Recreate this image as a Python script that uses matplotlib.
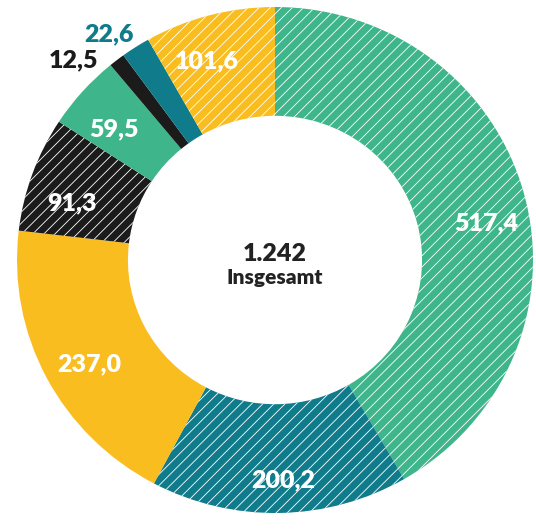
import numpy as np
import matplotlib
matplotlib.use('Agg')
import matplotlib.pyplot as plt

# Werte (Uhrzeigersinn ab 12 Uhr)
values = [517.4, 200.2, 237.0, 91.3, 59.5, 12.5, 22.6, 101.6]
labels = ['517,4', '200,2', '237,0', '91,3', '59,5', '12,5', '22,6', '101,6']
colors = ['#3fb58b', '#0f7b8b', '#f9bd1f', '#1b1b1b', '#3fb58b', '#1b1b1b', '#0f7b8b', '#f9bd1f']
hatches = ['///', '///', '', '///', '', '', '', '///']
outside = [False, False, False, False, False, True, True, False]
total_label = '1.242'
total_text = 'Insgesamt'

# Feinjustierung der Beschriftung (Winkelversatz in Grad, Radius)
lab_shift = [-5, 1, 2, 4, 2, 7, 3, 4]
lab_r = [0.83, 0.87, 0.83, 0.82, 0.81, 1.11, 1.10, 0.83]

plt.rcParams['font.family'] = ['Lato', 'DejaVu Sans']
plt.rcParams['hatch.linewidth'] = 0.6
plt.rcParams['hatch.color'] = 'white'

fig = plt.figure(figsize=(5.36, 5.29), dpi=100)
ax = fig.add_axes([0, 0, 1, 1])

wedges, _ = ax.pie(values, startangle=90, counterclock=False, colors=colors,
                   radius=1.0, wedgeprops=dict(width=0.43, linewidth=0, edgecolor='white'))
for w, h in zip(wedges, hatches):
    if h:
        w.set_hatch(h)
        w.set_edgecolor('white')
        w.set_linewidth(0)

# Ausschnitt wie im Original (Ring fast bildfüllend)
Rx, Ry = 258.0, 253.0
cx, cy = 275.0, 529.0 - 260.0
ax.set_aspect('auto')
ax.set_xlim(-cx / Rx, (536 - cx) / Rx)
ax.set_ylim(-cy / Ry, (529 - cy) / Ry)
ax.axis('off')

cum = np.cumsum([0] + values[:-1])
tot = sum(values)
for i, (v, lab) in enumerate(zip(values, labels)):
    mid = 90 - 360 * (cum[i] + v / 2) / tot + lab_shift[i]
    col = colors[i] if outside[i] else 'white'
    x = lab_r[i] * np.cos(np.radians(mid))
    y = lab_r[i] * np.sin(np.radians(mid))
    ax.text(x, y, lab, ha='center', va='center', color=col,
            fontsize=18, fontweight='heavy')

ax.text(0, 0.025, total_label, ha='center', va='center', fontsize=18,
        fontweight='heavy', color='#222222')
ax.text(0, -0.07, total_text, ha='center', va='center', fontsize=15,
        fontweight='heavy', color='#222222')

fig.savefig('out.png', dpi=100)
